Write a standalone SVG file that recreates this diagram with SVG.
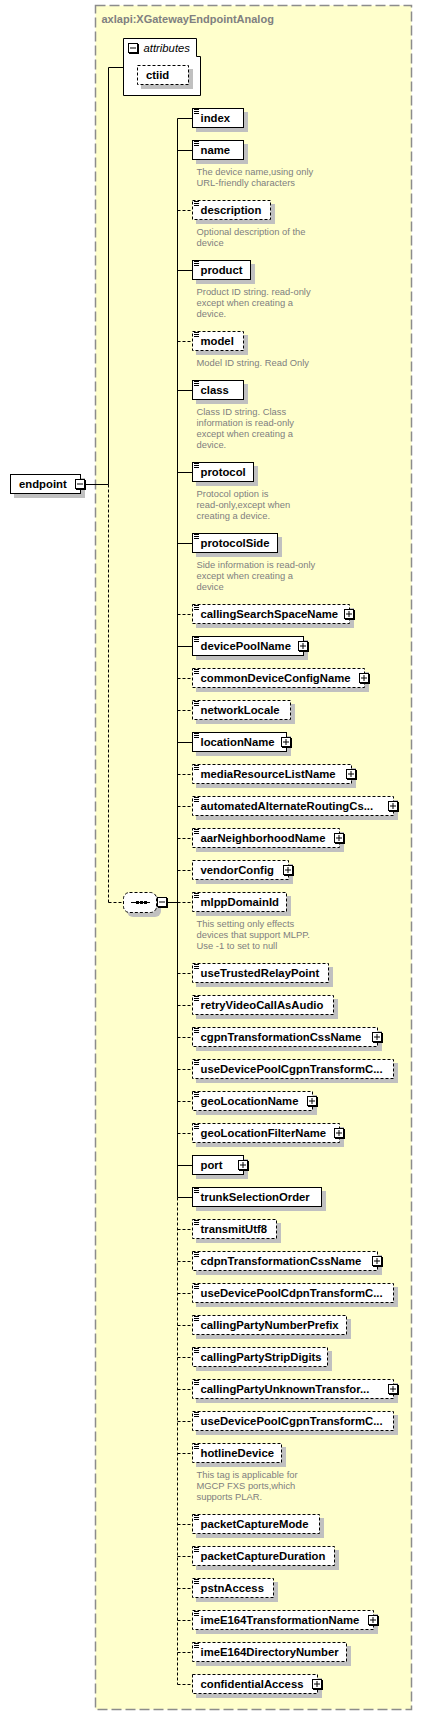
<svg xmlns="http://www.w3.org/2000/svg" width="422" height="1715" viewBox="0 0 422 1715">
<style>
.bg{fill:#ffffcc;stroke:#8c8c8c;stroke-width:1.5;stroke-dasharray:10 4}
.ttl{font-family:"Liberation Sans",Arial,sans-serif;font-weight:bold;font-size:11px;fill:#808080}
.sh{fill:#c0c0c0}
.box{fill:#fff;stroke:#000;stroke-width:1}
.opt{stroke-dasharray:3 2}
.lbl{font-family:"Liberation Sans",Arial,sans-serif;font-weight:bold;font-size:11.3px;fill:#000}
.it{font-family:"Liberation Sans",Arial,sans-serif;font-style:italic;font-size:11.3px;fill:#000}
.desc{font-family:"Liberation Sans",Arial,sans-serif;font-size:9.4px;fill:#808080}
.ln{fill:none;stroke:#000;stroke-width:1}
.dl{fill:none;stroke:#000;stroke-width:1;stroke-dasharray:3 2}
</style>
<defs>
<g id="plus"><rect x="0.5" y="0.5" width="9" height="9" fill="#fff" stroke="#000"/><path d="M10.5,1V11M1,10.5H11M2,5H8M5,2V8" stroke="#000" fill="none"/></g>
<g id="minus"><rect x="0.5" y="0.5" width="9" height="9" fill="#fff" stroke="#000"/><path d="M10.5,1V11M1,10.5H11M2,5H8" stroke="#000" fill="none"/></g>
<path id="ic" d="M0,0.5H5M0,2.5H5M0,4.5H5" stroke="#000" fill="none"/>
</defs>

<rect class="bg" x="95.5" y="5.5" width="316" height="1704"/>
<text class="ttl" x="101.5" y="23">axlapi:XGatewayEndpointAnalog</text>

<g id="connectors">
<path class="ln" d="M108.5,67.5H123.5M86,484.5H108.5M108.5,67.5V484.5M168,902.5H177.5M177.5,118.5V1197.5M177.5,118.5H192.5M177.5,150.5H192.5M177.5,270.5H192.5M177.5,390.5H192.5M177.5,472.5H192.5M177.5,543.5H192.5M177.5,646.5H192.5M177.5,742.5H192.5M177.5,1165.5H192.5M177.5,1197.5H192.5"/>
<path class="dl" d="M108.5,484.5V902.5M108.5,902.5H123.5M177.5,1197.5V1684.5M177.5,210.5H192.5M177.5,341.5H192.5M177.5,614.5H192.5M177.5,678.5H192.5M177.5,710.5H192.5M177.5,774.5H192.5M177.5,806.5H192.5M177.5,838.5H192.5M177.5,870.5H192.5M177.5,902.5H192.5M177.5,973.5H192.5M177.5,1005.5H192.5M177.5,1037.5H192.5M177.5,1069.5H192.5M177.5,1101.5H192.5M177.5,1133.5H192.5M177.5,1229.5H192.5M177.5,1261.5H192.5M177.5,1293.5H192.5M177.5,1325.5H192.5M177.5,1357.5H192.5M177.5,1389.5H192.5M177.5,1421.5H192.5M177.5,1453.5H192.5M177.5,1524.5H192.5M177.5,1556.5H192.5M177.5,1588.5H192.5M177.5,1620.5H192.5M177.5,1652.5H192.5M177.5,1684.5H192.5"/>
</g>

<g id="endpoint">
<rect class="sh" x="14" y="478" width="71" height="20"/>
<rect class="box" x="10.5" y="474.5" width="70" height="19"/>
<text class="lbl" x="19" y="488">endpoint</text>
<use href="#minus" x="75" y="479"/>
</g>

<g id="attributes">
<path class="box" d="M123.5,38.5H196.5V56.5H200.5V95.5H123.5Z"/>
<use href="#minus" x="128" y="43"/>
<text class="it" x="143.5" y="52">attributes</text>
<g id="a-ctiid">
<rect class="sh" x="141" y="69" width="52" height="20"/>
<rect class="box opt" x="137.5" y="65.5" width="51" height="19"/>
<text class="lbl" x="146" y="79">ctiid</text>
</g>
</g>

<g id="sequence">
<rect class="sh" x="127" y="896" width="34" height="21" rx="6"/>
<rect class="box opt" x="123.5" y="892.5" width="33" height="20" rx="6"/>
<path class="ln" d="M131,902.5H150"/>
<rect x="136" y="901" width="3" height="3"/><rect x="140" y="901" width="3" height="3"/><rect x="144" y="901" width="3" height="3"/>
<use href="#minus" x="157" y="897"/>
</g>

<g id="e-index"><rect class="sh" x="196" y="112" width="52" height="20"/><rect class="box" x="192.5" y="108.5" width="51" height="19"/><use href="#ic" x="194" y="109"/><text class="lbl" x="200.5" y="122">index</text></g>

<g id="e-name"><rect class="sh" x="196" y="144" width="52" height="20"/><rect class="box" x="192.5" y="140.5" width="51" height="19"/><use href="#ic" x="194" y="141"/><text class="lbl" x="200.5" y="154">name</text>
<text class="desc" x="196.5" y="175">The device name,using only</text><text class="desc" x="196.5" y="186">URL-friendly characters</text></g>

<g id="e-description"><rect class="sh" x="196" y="204" width="79" height="20"/><rect class="box opt" x="192.5" y="200.5" width="78" height="19"/><use href="#ic" x="194" y="201"/><text class="lbl" x="200.5" y="214">description</text>
<text class="desc" x="196.5" y="235">Optional description of the</text><text class="desc" x="196.5" y="246">device</text></g>

<g id="e-product"><rect class="sh" x="196" y="264" width="59" height="20"/><rect class="box" x="192.5" y="260.5" width="58" height="19"/><use href="#ic" x="194" y="261"/><text class="lbl" x="200.5" y="274">product</text>
<text class="desc" x="196.5" y="295">Product ID string. read-only</text><text class="desc" x="196.5" y="306">except when creating a</text><text class="desc" x="196.5" y="317">device.</text></g>

<g id="e-model"><rect class="sh" x="196" y="335" width="52" height="20"/><rect class="box opt" x="192.5" y="331.5" width="51" height="19"/><use href="#ic" x="194" y="332"/><text class="lbl" x="200.5" y="345">model</text>
<text class="desc" x="196.5" y="366">Model ID string. Read Only</text></g>

<g id="e-class"><rect class="sh" x="196" y="384" width="52" height="20"/><rect class="box" x="192.5" y="380.5" width="51" height="19"/><use href="#ic" x="194" y="381"/><text class="lbl" x="200.5" y="394">class</text>
<text class="desc" x="196.5" y="415">Class ID string. Class</text><text class="desc" x="196.5" y="426">information is read-only</text><text class="desc" x="196.5" y="437">except when creating a</text><text class="desc" x="196.5" y="448">device.</text></g>

<g id="e-protocol"><rect class="sh" x="196" y="466" width="62" height="20"/><rect class="box" x="192.5" y="462.5" width="61" height="19"/><use href="#ic" x="194" y="463"/><text class="lbl" x="200.5" y="476">protocol</text>
<text class="desc" x="196.5" y="497">Protocol option is</text><text class="desc" x="196.5" y="508">read-only,except when</text><text class="desc" x="196.5" y="519">creating a device.</text></g>

<g id="e-protocolSide"><rect class="sh" x="196" y="537" width="86" height="20"/><rect class="box" x="192.5" y="533.5" width="85" height="19"/><use href="#ic" x="194" y="534"/><text class="lbl" x="200.5" y="547">protocolSide</text>
<text class="desc" x="196.5" y="568">Side information is read-only</text><text class="desc" x="196.5" y="579">except when creating a</text><text class="desc" x="196.5" y="590">device</text></g>

<g id="e-callingSearchSpaceName"><rect class="sh" x="196" y="608" width="158" height="20"/><rect class="box opt" x="192.5" y="604.5" width="157" height="19"/><use href="#ic" x="194" y="605"/><text class="lbl" x="200.5" y="618">callingSearchSpaceName</text><use href="#plus" x="344" y="609"/></g>

<g id="e-devicePoolName"><rect class="sh" x="196" y="640" width="112" height="20"/><rect class="box" x="192.5" y="636.5" width="111" height="19"/><use href="#ic" x="194" y="637"/><text class="lbl" x="200.5" y="650">devicePoolName</text><use href="#plus" x="298" y="641"/></g>

<g id="e-commonDeviceConfigName"><rect class="sh" x="196" y="672" width="173" height="20"/><rect class="box opt" x="192.5" y="668.5" width="172" height="19"/><use href="#ic" x="194" y="669"/><text class="lbl" x="200.5" y="682">commonDeviceConfigName</text><use href="#plus" x="359" y="673"/></g>

<g id="e-networkLocale"><rect class="sh" x="196" y="704" width="99" height="20"/><rect class="box opt" x="192.5" y="700.5" width="98" height="19"/><use href="#ic" x="194" y="701"/><text class="lbl" x="200.5" y="714">networkLocale</text></g>

<g id="e-locationName"><rect class="sh" x="196" y="736" width="95" height="20"/><rect class="box" x="192.5" y="732.5" width="94" height="19"/><use href="#ic" x="194" y="733"/><text class="lbl" x="200.5" y="746">locationName</text><use href="#plus" x="281" y="737"/></g>

<g id="e-mediaResourceListName"><rect class="sh" x="196" y="768" width="160" height="20"/><rect class="box opt" x="192.5" y="764.5" width="159" height="19"/><use href="#ic" x="194" y="765"/><text class="lbl" x="200.5" y="778">mediaResourceListName</text><use href="#plus" x="346" y="769"/></g>

<g id="e-automatedAlternateRoutingCss"><rect class="sh" x="196" y="800" width="202" height="20"/><rect class="box opt" x="192.5" y="796.5" width="201" height="19"/><use href="#ic" x="194" y="797"/><text class="lbl" x="200.5" y="810">automatedAlternateRoutingCs...</text><use href="#plus" x="388" y="801"/></g>

<g id="e-aarNeighborhoodName"><rect class="sh" x="196" y="832" width="148" height="20"/><rect class="box opt" x="192.5" y="828.5" width="147" height="19"/><use href="#ic" x="194" y="829"/><text class="lbl" x="200.5" y="842">aarNeighborhoodName</text><use href="#plus" x="334" y="833"/></g>

<g id="e-vendorConfig"><rect class="sh" x="196" y="864" width="97" height="20"/><rect class="box opt" x="192.5" y="860.5" width="96" height="19"/><text class="lbl" x="200.5" y="874">vendorConfig</text><use href="#plus" x="283" y="865"/></g>

<g id="e-mlppDomainId"><rect class="sh" x="196" y="896" width="95" height="20"/><rect class="box opt" x="192.5" y="892.5" width="94" height="19"/><use href="#ic" x="194" y="893"/><text class="lbl" x="200.5" y="906">mlppDomainId</text>
<text class="desc" x="196.5" y="927">This setting only effects</text><text class="desc" x="196.5" y="938">devices that support MLPP.</text><text class="desc" x="196.5" y="949">Use -1 to set to null</text></g>

<g id="e-useTrustedRelayPoint"><rect class="sh" x="196" y="967" width="137" height="20"/><rect class="box opt" x="192.5" y="963.5" width="136" height="19"/><use href="#ic" x="194" y="964"/><text class="lbl" x="200.5" y="977">useTrustedRelayPoint</text></g>

<g id="e-retryVideoCallAsAudio"><rect class="sh" x="196" y="999" width="142" height="20"/><rect class="box opt" x="192.5" y="995.5" width="141" height="19"/><use href="#ic" x="194" y="996"/><text class="lbl" x="200.5" y="1009">retryVideoCallAsAudio</text></g>

<g id="e-cgpnTransformationCssName"><rect class="sh" x="196" y="1031" width="186" height="20"/><rect class="box opt" x="192.5" y="1027.5" width="185" height="19"/><use href="#ic" x="194" y="1028"/><text class="lbl" x="200.5" y="1041">cgpnTransformationCssName</text><use href="#plus" x="372" y="1032"/></g>

<g id="e-useDevicePoolCgpnTransformCss1"><rect class="sh" x="196" y="1063" width="202" height="20"/><rect class="box opt" x="192.5" y="1059.5" width="201" height="19"/><use href="#ic" x="194" y="1060"/><text class="lbl" x="200.5" y="1073">useDevicePoolCgpnTransformC...</text></g>

<g id="e-geoLocationName"><rect class="sh" x="196" y="1095" width="121" height="20"/><rect class="box opt" x="192.5" y="1091.5" width="120" height="19"/><use href="#ic" x="194" y="1092"/><text class="lbl" x="200.5" y="1105">geoLocationName</text><use href="#plus" x="307" y="1096"/></g>

<g id="e-geoLocationFilterName"><rect class="sh" x="196" y="1127" width="148" height="20"/><rect class="box opt" x="192.5" y="1123.5" width="147" height="19"/><use href="#ic" x="194" y="1124"/><text class="lbl" x="200.5" y="1137">geoLocationFilterName</text><use href="#plus" x="334" y="1128"/></g>

<g id="e-port"><rect class="sh" x="196" y="1159" width="52" height="20"/><rect class="box" x="192.5" y="1155.5" width="51" height="19"/><text class="lbl" x="200.5" y="1169">port</text><use href="#plus" x="238" y="1160"/></g>

<g id="e-trunkSelectionOrder"><rect class="sh" x="196" y="1191" width="130" height="20"/><rect class="box" x="192.5" y="1187.5" width="129" height="19"/><use href="#ic" x="194" y="1188"/><text class="lbl" x="200.5" y="1201">trunkSelectionOrder</text></g>

<g id="e-transmitUtf8"><rect class="sh" x="196" y="1223" width="85" height="20"/><rect class="box opt" x="192.5" y="1219.5" width="84" height="19"/><use href="#ic" x="194" y="1220"/><text class="lbl" x="200.5" y="1233">transmitUtf8</text></g>

<g id="e-cdpnTransformationCssName"><rect class="sh" x="196" y="1255" width="186" height="20"/><rect class="box opt" x="192.5" y="1251.5" width="185" height="19"/><use href="#ic" x="194" y="1252"/><text class="lbl" x="200.5" y="1265">cdpnTransformationCssName</text><use href="#plus" x="372" y="1256"/></g>

<g id="e-useDevicePoolCdpnTransformCss"><rect class="sh" x="196" y="1287" width="202" height="20"/><rect class="box opt" x="192.5" y="1283.5" width="201" height="19"/><use href="#ic" x="194" y="1284"/><text class="lbl" x="200.5" y="1297">useDevicePoolCdpnTransformC...</text></g>

<g id="e-callingPartyNumberPrefix"><rect class="sh" x="196" y="1319" width="155" height="20"/><rect class="box opt" x="192.5" y="1315.5" width="154" height="19"/><use href="#ic" x="194" y="1316"/><text class="lbl" x="200.5" y="1329">callingPartyNumberPrefix</text></g>

<g id="e-callingPartyStripDigits"><rect class="sh" x="196" y="1351" width="136" height="20"/><rect class="box opt" x="192.5" y="1347.5" width="135" height="19"/><use href="#ic" x="194" y="1348"/><text class="lbl" x="200.5" y="1361">callingPartyStripDigits</text></g>

<g id="e-callingPartyUnknownTransformationCssName"><rect class="sh" x="196" y="1383" width="202" height="20"/><rect class="box opt" x="192.5" y="1379.5" width="201" height="19"/><use href="#ic" x="194" y="1380"/><text class="lbl" x="200.5" y="1393">callingPartyUnknownTransfor...</text><use href="#plus" x="388" y="1384"/></g>

<g id="e-useDevicePoolCgpnTransformCss2"><rect class="sh" x="196" y="1415" width="202" height="20"/><rect class="box opt" x="192.5" y="1411.5" width="201" height="19"/><use href="#ic" x="194" y="1412"/><text class="lbl" x="200.5" y="1425">useDevicePoolCgpnTransformC...</text></g>

<g id="e-hotlineDevice"><rect class="sh" x="196" y="1447" width="90" height="20"/><rect class="box opt" x="192.5" y="1443.5" width="89" height="19"/><use href="#ic" x="194" y="1444"/><text class="lbl" x="200.5" y="1457">hotlineDevice</text>
<text class="desc" x="196.5" y="1477.5">This tag is applicable for</text><text class="desc" x="196.5" y="1488.5">MGCP FXS ports,which</text><text class="desc" x="196.5" y="1499.5">supports PLAR.</text></g>

<g id="e-packetCaptureMode"><rect class="sh" x="196" y="1518" width="128" height="20"/><rect class="box opt" x="192.5" y="1514.5" width="127" height="19"/><use href="#ic" x="194" y="1515"/><text class="lbl" x="200.5" y="1528">packetCaptureMode</text></g>

<g id="e-packetCaptureDuration"><rect class="sh" x="196" y="1550" width="143" height="20"/><rect class="box opt" x="192.5" y="1546.5" width="142" height="19"/><use href="#ic" x="194" y="1547"/><text class="lbl" x="200.5" y="1560">packetCaptureDuration</text></g>

<g id="e-pstnAccess"><rect class="sh" x="196" y="1582" width="82" height="20"/><rect class="box opt" x="192.5" y="1578.5" width="81" height="19"/><use href="#ic" x="194" y="1579"/><text class="lbl" x="200.5" y="1592">pstnAccess</text></g>

<g id="e-imeE164TransformationName"><rect class="sh" x="196" y="1614" width="182" height="20"/><rect class="box opt" x="192.5" y="1610.5" width="181" height="19"/><use href="#ic" x="194" y="1611"/><text class="lbl" x="200.5" y="1624">imeE164TransformationName</text><use href="#plus" x="368" y="1615"/></g>

<g id="e-imeE164DirectoryNumber"><rect class="sh" x="196" y="1646" width="155" height="20"/><rect class="box opt" x="192.5" y="1642.5" width="154" height="19"/><use href="#ic" x="194" y="1643"/><text class="lbl" x="200.5" y="1656">imeE164DirectoryNumber</text></g>

<g id="e-confidentialAccess"><rect class="sh" x="196" y="1678" width="126" height="20"/><rect class="box opt" x="192.5" y="1674.5" width="125" height="19"/><text class="lbl" x="200.5" y="1688">confidentialAccess</text><use href="#plus" x="312" y="1679"/></g>
</svg>
